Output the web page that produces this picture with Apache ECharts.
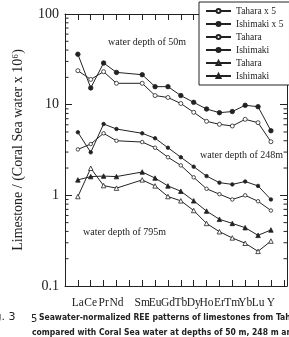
<!DOCTYPE html>
<html>
<head>
<meta charset="utf-8">
<script src="https://cdn.jsdelivr.net/npm/echarts@6/dist/echarts.min.js"></script>
<style>
  html, body { margin: 0; padding: 0; background: #fff; }
  #myChart { width: 289px; height: 337px; }
</style>
</head>
<body>
<div id="myChart"></div>
<script>
  // element names and their place on the x axis (Pm = 5 is missing)
  var elements = ['La', 'Ce', 'Pr', 'Nd', 'Sm', 'Eu', 'Gd', 'Tb', 'Dy', 'Ho', 'Er', 'Tm', 'Yb', 'Lu', 'Y']
  var positions = [1, 2, 3, 4, 6, 7, 8, 9, 10, 11, 12, 13, 14, 15, 16]

  // water depth of 50m (values x 5)
  var tahara50 = [23.7, 19, 23.1, 17.2, 17.2, 12.6, 12.0, 10.3, 8.24, 6.55, 6.07, 5.82, 6.89, 6.33, 3.9]
  var ishimaki50 = [36, 15.3, 28.8, 22.7, 21.4, 15.8, 15.8, 12.6, 10.6, 8.96, 8.16, 8.4, 9.84, 9.5, 5.16]
  // water depth of 248m
  var tahara248 = [3.21, 3.68, 4.83, 4.0, 3.87, 3.35, 2.63, 2.14, 1.58, 1.18, 1.03, 0.90, 1.0, 0.86, 0.68]
  var ishimaki248 = [4.96, 2.98, 6.12, 5.39, 4.83, 4.26, 3.35, 2.63, 2.07, 1.63, 1.38, 1.32, 1.42, 1.27, 0.90]
  // water depth of 795m
  var tahara795 = [0.97, 1.99, 1.28, 1.2, 1.48, 1.27, 0.97, 0.87, 0.68, 0.49, 0.397, 0.339, 0.296, 0.241, 0.313]
  var ishimaki795 = [1.48, 1.61, 1.63, 1.61, 1.81, 1.55, 1.27, 1.11, 0.87, 0.67, 0.544, 0.49, 0.44, 0.362, 0.415]

  // minor ticks of the log axis
  var minorTicks = [0.2, 0.3, 0.4, 0.5, 0.6, 0.7, 0.8, 0.9, 2, 3, 4, 5, 6, 7, 8, 9, 20, 30, 40, 50, 60, 70, 80, 90]

  var ink = '#222'
  var serif = '"Liberation Serif", "DejaVu Serif", serif'
  var xMax = 17.25

  function pairs(vals) {
    return vals.map(function (v, i) { return [positions[i], v] })
  }

  function line(name, vals, symbol, size, filled) {
    return {
      name: name,
      type: 'line',
      data: pairs(vals),
      symbol: symbol,
      symbolSize: size,
      lineStyle: {color: ink, width: 1},
      itemStyle: {color: filled ? ink : '#fff', borderColor: ink, borderWidth: 0.8},
      z: filled ? 3 : 2
    }
  }

  function tickLabel(v) {
    var i = positions.indexOf(v)
    return i < 0 ? '' : elements[i]
  }

  function xAxisOf(pos, labels) {
    return {
      type: 'value',
      min: 0,
      max: xMax,
      interval: 1,
      position: pos,
      splitLine: {show: false},
      axisLine: {show: true, onZero: false, lineStyle: {color: ink}},
      axisTick: {show: true, inside: true, length: 6, lineStyle: {color: ink}},
      axisLabel: labels ? {
        show: true, formatter: tickLabel,
        fontFamily: serif, fontSize: 11.5, color: ink, margin: 11
      } : {show: false}
    }
  }

  function yAxisOf(pos, labels) {
    var axis = {
      type: 'log',
      min: 0.1,
      max: 100,
      position: pos,
      splitLine: {show: false},
      axisLine: {show: true, onZero: false, lineStyle: {color: ink}},
      axisTick: {show: true, inside: true, length: 7, lineStyle: {color: ink}},
      axisLabel: {show: false}
    }
    if (labels) {
      axis.axisLabel = {
        show: true,
        formatter: function (v) { return String(v) },
        fontFamily: serif, fontSize: 14, color: ink, margin: 6
      }
      axis.name = 'Limestone / (Coral Sea water x 10\u2076)'
      axis.nameLocation = 'middle'
      axis.nameGap = 40
      axis.nameTextStyle = {fontFamily: serif, fontSize: 14, color: ink}
    }
    return axis
  }

  var names = ['Tahara x 5', 'Ishimaki x 5', 'Tahara (248m)', 'Ishimaki (248m)', 'Tahara (795m)', 'Ishimaki (795m)']

  var myCharts = echarts.init(document.getElementById('myChart'))
  myCharts.setOption({
    animation: false,
    grid: [{left: 65, top: 14, right: 2, bottom: 51, outerBoundsMode: 'none'}],
    legend: {
      data: names,
      orient: 'vertical',
      left: 199,
      top: 2,
      padding: [4, 6, 4, 6],
      itemWidth: 25,
      itemHeight: 5,
      itemGap: 3,
      backgroundColor: '#fff',
      borderColor: ink,
      borderWidth: 1,
      textStyle: {fontFamily: serif, fontSize: 9.5, color: ink},
      formatter: function (name) { return name.replace(/ \(.*\)$/, '') }
    },
    xAxis: [xAxisOf('bottom', true), xAxisOf('top', false)],
    yAxis: [yAxisOf('left', true), yAxisOf('right', false)],
    graphic: [
      {type: 'text', left: 108, top: 37, style: {text: 'water depth of 50m', font: '10px ' + serif, fill: ink}},
      {type: 'text', left: 200, top: 150, style: {text: 'water depth of 248m', font: '10px ' + serif, fill: ink}},
      {type: 'text', left: 83, top: 227, style: {text: 'water depth of 795m', font: '10px ' + serif, fill: ink}},
      {type: 'text', left: -14, top: 312, style: {text: 'Fig. 3', font: '11px "DejaVu Sans"', fill: ink}},
      {type: 'text', left: 31, top: 314, style: {text: '5', font: '10px "DejaVu Sans"', fill: ink}},
      {type: 'text', left: 39, top: 313, style: {text: 'Seawater-normalized REE patterns of limestones from Tahara and Ishimaki', font: 'bold 8.5px "DejaVu Sans Condensed"', fill: ink}},
      {type: 'text', left: 32, top: 328, style: {text: 'compared with Coral Sea water at depths of 50 m, 248 m and 795 m (Alibo and Nozaki)', font: 'bold 8.5px "DejaVu Sans Condensed"', fill: ink}}
    ],
    series: [
      line(names[0], tahara50, 'circle', 4, false),
      line(names[1], ishimaki50, 'circle', 4.5, true),
      line(names[2], tahara248, 'circle', 3.5, false),
      line(names[3], ishimaki248, 'circle', 3.5, true),
      line(names[4], tahara795, 'triangle', 4.5, false),
      line(names[5], ishimaki795, 'triangle', 4.5, true),
      {
        // minor log ticks on both sides, placed through the y scale
        type: 'custom',
        silent: true,
        data: minorTicks.map(function (v) { return [0, v] }),
        renderItem: function (params, api) {
          var p = api.coord([0, api.value(1)])
          var q = api.coord([xMax, api.value(1)])
          var st = {stroke: ink, lineWidth: 1}
          return {
            type: 'group',
            children: [
              {type: 'line', shape: {x1: p[0], y1: p[1], x2: p[0] + 3.5, y2: p[1]}, style: st},
              {type: 'line', shape: {x1: q[0] - 3.5, y1: q[1], x2: q[0], y2: q[1]}, style: st}
            ]
          }
        }
      }
    ]
  })
</script>
</body>
</html>
